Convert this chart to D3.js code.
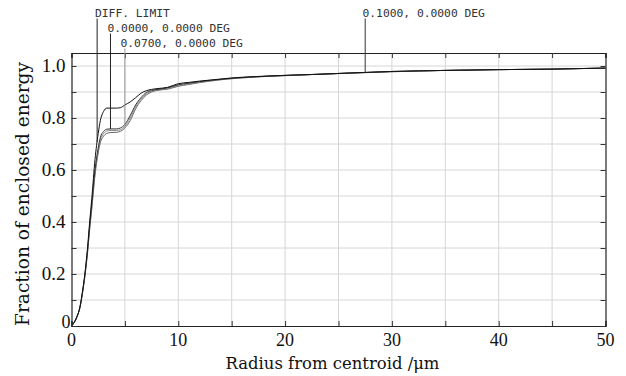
<!DOCTYPE html>
<html>
<head>
<meta charset="utf-8">
<script src="https://cdn.jsdelivr.net/npm/d3@7"></script>
<style>
  html, body { margin: 0; padding: 0; background: #fff; }
  svg text.serif { font-family: "Liberation Serif", "DejaVu Serif", serif; fill: #111; }
  svg text.title { font-family: "DejaVu Serif", serif; fill: #111; }
  svg text.mono { font-family: "DejaVu Sans Mono", monospace; fill: #333; }
</style>
</head>
<body>
<div id="chart"></div>
<script>
// radius (um) sample points shared by all curves
const radius = [0, 0.5, 0.8, 1.0, 1.25, 1.5, 1.7, 1.9, 2.2, 2.5, 2.7, 3.0, 3.3, 3.7, 4.2, 4.6, 5.0, 5.5, 6.0, 6.5, 7.0, 7.5, 8.0, 9.0, 10, 11, 12, 13, 14, 15, 17, 20, 23, 26, 30, 35, 40, 45, 50];

const diffLimit = [0, 0.035, 0.075, 0.125, 0.2, 0.3, 0.4, 0.49, 0.64, 0.74, 0.79, 0.825, 0.838, 0.838, 0.838, 0.84, 0.85, 0.862, 0.878, 0.895, 0.905, 0.91, 0.913, 0.918, 0.932, 0.937, 0.942, 0.946, 0.95, 0.954, 0.959, 0.964, 0.968, 0.973, 0.979, 0.983, 0.986, 0.988, 0.992];
const field000 = [0, 0.035, 0.074, 0.122, 0.195, 0.29, 0.385, 0.47, 0.6, 0.685, 0.725, 0.748, 0.757, 0.758, 0.758, 0.762, 0.775, 0.81, 0.85, 0.878, 0.898, 0.906, 0.91, 0.916, 0.928, 0.934, 0.94, 0.945, 0.949, 0.953, 0.958, 0.964, 0.968, 0.973, 0.979, 0.983, 0.986, 0.988, 0.992];
const field007 = [0, 0.034, 0.073, 0.12, 0.192, 0.285, 0.378, 0.46, 0.59, 0.675, 0.715, 0.74, 0.75, 0.752, 0.752, 0.755, 0.768, 0.8, 0.842, 0.872, 0.893, 0.903, 0.908, 0.913, 0.925, 0.931, 0.938, 0.944, 0.948, 0.952, 0.958, 0.963, 0.968, 0.973, 0.978, 0.983, 0.986, 0.988, 0.992];
const field010 = [0, 0.033, 0.072, 0.118, 0.19, 0.28, 0.37, 0.45, 0.58, 0.665, 0.705, 0.73, 0.741, 0.744, 0.745, 0.749, 0.762, 0.79, 0.835, 0.866, 0.888, 0.9, 0.906, 0.911, 0.922, 0.929, 0.936, 0.942, 0.947, 0.951, 0.957, 0.963, 0.968, 0.972, 0.978, 0.983, 0.986, 0.988, 0.992];

const xTicks = [0, 10, 20, 30, 40, 50];
const yTicks = [0.2, 0.4, 0.6, 0.8, 1.0];

// annotation labels and where their leader lines land
const labels = ["DIFF. LIMIT", "0.0000, 0.0000 DEG", "0.0700, 0.0000 DEG", "0.1000, 0.0000 DEG"];
const leaderR = [2.4, 3.65, 5.0, 27.5];

const W = 626, H = 376;
const m = { left: 71.5, right: 605.5, top: 53, bottom: 326 };

const svg = d3.select("#chart").append("svg")
  .attr("width", W).attr("height", H);

const x = d3.scaleLinear().domain([0, 50]).range([m.left, m.right]);
const y = d3.scaleLinear().domain([0, 1.05]).range([m.bottom, m.top]);

// shrink/grow a text's font size so it spans the given width
function fit(sel, width) {
  const fs = +sel.attr("font-size");
  const len = sel.node().getComputedTextLength();
  sel.attr("font-size", (fs * width / len).toFixed(2));
}

// grid
svg.append("g").selectAll("line")
  .data(d3.range(5, 50, 5))
  .join("line")
  .attr("x1", d => x(d)).attr("x2", d => x(d))
  .attr("y1", m.top).attr("y2", m.bottom)
  .attr("stroke", "#d6d6d6").attr("stroke-width", 1);
svg.append("g").selectAll("line")
  .data(d3.range(1, 11).map(d => d / 10))
  .join("line")
  .attr("x1", m.left).attr("x2", m.right)
  .attr("y1", d => y(d)).attr("y2", d => y(d))
  .attr("stroke", "#d6d6d6").attr("stroke-width", 1);

// axes with inward ticks
const xAxis = d3.axisBottom(x).tickValues(d3.range(0, 51, 5)).tickSize(-5).tickFormat("");
const gx = svg.append("g").attr("transform", `translate(0,${m.bottom})`).call(xAxis);
const gxTop = svg.append("g").attr("transform", `translate(0,${m.top})`)
  .call(d3.axisTop(x).tickValues(d3.range(0, 51, 5)).tickSize(-5).tickFormat(""));
const gy = svg.append("g").attr("transform", `translate(${m.left},0)`)
  .call(d3.axisLeft(y).tickValues(d3.range(0, 11).map(d => d / 10)).tickSize(-5).tickFormat(""));
const gyR = svg.append("g").attr("transform", `translate(${m.right},0)`)
  .call(d3.axisRight(y).tickValues(d3.range(0, 11).map(d => d / 10)).tickSize(-5).tickFormat(""));
[gx, gxTop, gy, gyR].forEach(g => {
  g.select(".domain").attr("stroke", "#222").attr("stroke-width", 1.2);
  g.selectAll(".tick line").attr("stroke", "#333");
});

// tick labels
svg.append("g").selectAll("text")
  .data(xTicks)
  .join("text")
  .attr("class", "serif")
  .attr("x", d => x(d)).attr("y", m.bottom + 20)
  .attr("text-anchor", "middle")
  .attr("font-size", 18)
  .text(d => d);
svg.append("g").selectAll("text")
  .data(yTicks)
  .join("text")
  .attr("class", "serif")
  .attr("x", m.left - 6).attr("y", d => y(d) + 6)
  .attr("text-anchor", "end")
  .attr("font-size", 19)
  .text(d => d.toFixed(1));
svg.append("text").attr("class", "serif")
  .attr("x", m.left - 1).attr("y", y(0) + 2)
  .attr("text-anchor", "end").attr("font-size", 18)
  .text("0");

// axis titles
const xt = svg.append("text").attr("class", "title")
  .attr("x", 332.5).attr("y", 369)
  .attr("text-anchor", "middle").attr("font-size", 17)
  .text("Radius from centroid /\u03bcm");
fit(xt, 214);
const yt = svg.append("text").attr("class", "title")
  .attr("transform", "translate(29,194) rotate(-90)")
  .attr("text-anchor", "middle").attr("font-size", 18)
  .text("Fraction of enclosed energy");
fit(yt, 264);

// curves
const series = [
  { v: field010, c: "#666" },
  { v: field007, c: "#888" },
  { v: field000, c: "#333" },
  { v: diffLimit, c: "#111" }
];
const line = d3.line()
  .x((d, i) => x(radius[i]))
  .y(d => y(d))
  .curve(d3.curveMonotoneX);
svg.append("g").selectAll("path")
  .data(series)
  .join("path")
  .attr("fill", "none")
  .attr("stroke", d => d.c)
  .attr("stroke-width", 1)
  .attr("d", d => line(d.v));

// annotations
const labelX = [95, 107.5, 120.5, 362.5];
const labelY = [16.5, 31.5, 46.5, 16.5];
const leaderSeries = [diffLimit, field000, field007, field010];
const leaderColor = ["#222", "#222", "#999", "#333"];
svg.append("g").selectAll("text")
  .data(labels)
  .join("text")
  .attr("class", "mono")
  .attr("x", (d, i) => labelX[i]).attr("y", (d, i) => labelY[i])
  .attr("font-size", 11.3)
  .text(d => d);
svg.append("g").selectAll("line")
  .data(leaderR)
  .join("line")
  .attr("x1", d => x(d)).attr("x2", d => x(d))
  .attr("y1", (d, i) => labelY[i] + 2)
  .attr("y2", (d, i) => {
    const s = leaderSeries[i];
    const j = d3.bisectLeft(radius, d);
    const t = (d - radius[j - 1]) / (radius[j] - radius[j - 1]);
    return y(s[j - 1] + t * (s[j] - s[j - 1]));
  })
  .attr("stroke", (d, i) => leaderColor[i])
  .attr("stroke-width", 1);
</script>
</body>
</html>
